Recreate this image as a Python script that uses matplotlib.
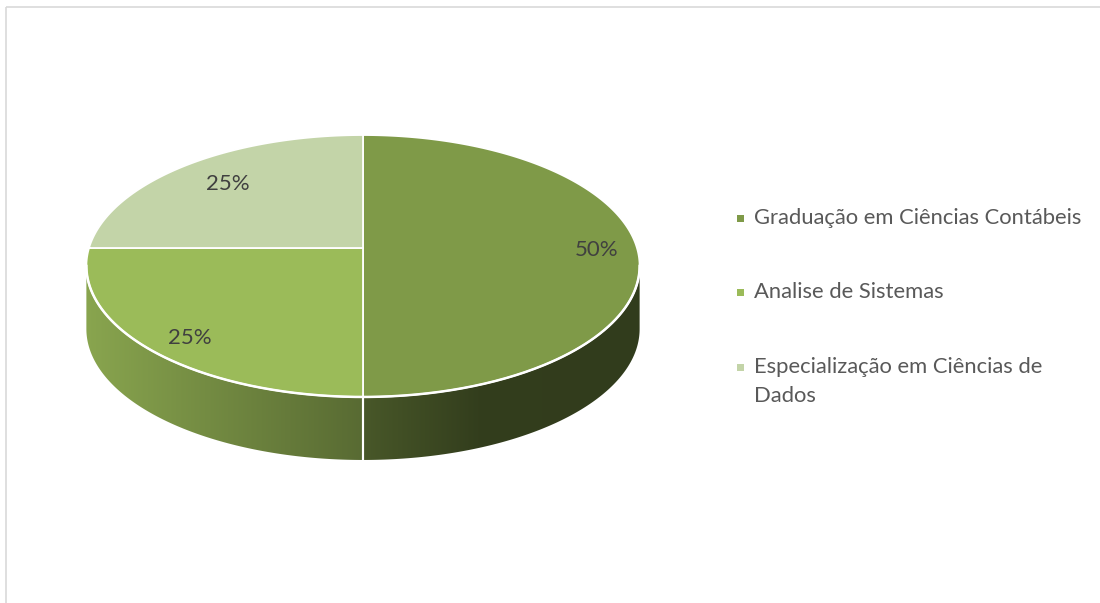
import textwrap
import numpy as np
import matplotlib.pyplot as plt
from matplotlib.patches import Polygon, Rectangle
from matplotlib.colors import to_rgb

plt.rcParams['font.family'] = ['Lato', 'DejaVu Sans']

# dados do gráfico
categories = ['Graduação em Ciências Contábeis', 'Analise de Sistemas',
              'Especialização em Ciências de Dados']
values = [50, 25, 25]
colors = ['#7f9a48', '#9bbb59', '#c3d4a8']

# geometria da pizza 3D (pixels)
cx, cy = 363, 248          # centro projetado
A, B, k = 274, 128.5, 0.1374  # semi-eixos e perspectiva
depth = 63
label_r = [0.85, 0.86, 0.75]
label_shift = [1, -3, 0]


def project(phi, r=1.0, drop=0.0):
    u = r * np.sin(phi)
    v = r * np.cos(phi)
    w = 1 + k * v
    return cx + A * u / w, cy - B * v / w + drop


def shade(x):
    return np.interp(x, [88, 363, 480, 640], [0.88, 0.57, 0.40, 0.39])


fig = plt.figure(figsize=(11, 6.03), dpi=100)
ax = fig.add_axes([0, 0, 1, 1])
ax.axis('off')

total = float(sum(values))
bounds = np.concatenate([[0], np.cumsum(values) / total * 2 * np.pi])
front_lo = np.arccos(-k)
front_hi = 2 * np.pi - front_lo

# paredes laterais com gradiente
for i in range(len(values)):
    lo = max(bounds[i], front_lo)
    hi = min(bounds[i + 1], front_hi)
    if lo >= hi:
        continue
    t = np.linspace(lo, hi, 200)
    xt, yt = project(t)
    xb, yb = project(t[::-1], drop=depth)
    pts = np.column_stack([np.concatenate([xt, xb]), np.concatenate([yt, yb])])
    wall = Polygon(pts, closed=True, fc='none', ec='none')
    ax.add_patch(wall)
    xs = np.linspace(80, 680, 600)
    base = np.array(to_rgb(colors[i]))
    img = (shade(xs)[:, None] * base[None, :])[None, :, :]
    im = ax.imshow(img, extent=(80, 680, 480, 240), aspect='auto',
                   interpolation='bilinear', zorder=1)
    im.set_clip_path(wall)
    # divisões verticais na parede
    for phi in (bounds[i], bounds[i + 1]):
        if front_lo < phi < front_hi:
            x0, y0 = project(phi)
            ax.plot([x0, x0], [y0, y0 + depth], color='white', lw=1.5, zorder=2)

# fatias do topo
for i in range(len(values)):
    t = np.linspace(bounds[i], bounds[i + 1], 300)
    xa, ya = project(t)
    pts = np.column_stack([np.concatenate([[cx], xa]), np.concatenate([[cy], ya])])
    ax.add_patch(Polygon(pts, closed=True, fc=colors[i], ec='white',
                         lw=1.3, zorder=3))

# borda frontal branca
t = np.linspace(front_lo, front_hi, 300)
xf, yf = project(t)
ax.plot(xf, yf, color='white', lw=1.8, zorder=4)

# rótulos de porcentagem
for i, val in enumerate(values):
    mid = (bounds[i] + bounds[i + 1]) / 2 + np.radians(label_shift[i])
    lx, ly = project(mid, r=label_r[i])
    ax.text(lx, ly, f'{val / total * 100:.0f}%', ha='center', va='center',
            fontsize=16, color='#404040', zorder=5)

# legenda
leg_x, leg_y0, leg_dy, line_dy = 737, 218, 74.5, 29
for i, name in enumerate(categories):
    y = leg_y0 + i * leg_dy
    ax.add_patch(Rectangle((leg_x, y - 3.5), 7, 7, fc=colors[i], ec='none'))
    for j, line in enumerate(textwrap.fill(name, 31).split('\n')):
        ax.text(leg_x + 17, y + j * line_dy, line, ha='left', va='center',
                fontsize=15.8, color='#595959')

# moldura
ax.add_patch(Rectangle((5.8, 6.8), 1200, 700, fill=False, ec='#d9d9d9', lw=1.2))

ax.set_xlim(0, 1100)
ax.set_ylim(603, 0)
fig.savefig('out.png', dpi=100)
